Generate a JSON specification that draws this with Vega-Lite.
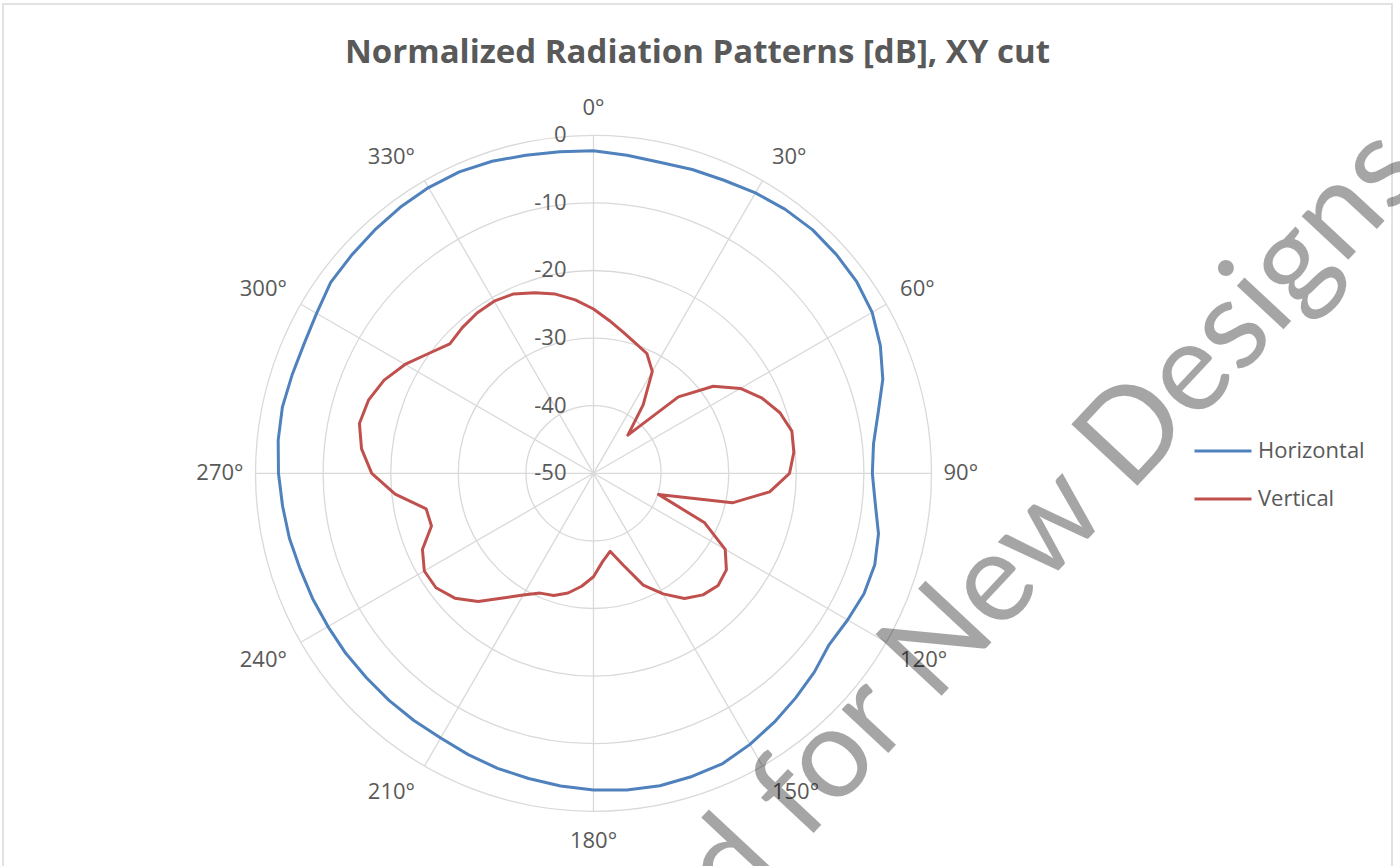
{
  "$schema": "https://vega.github.io/schema/vega-lite/v6.json",
  "width": 1389,
  "height": 900,
  "autosize": {"type": "none"},
  "padding": {"left": 3, "top": 4, "right": 8, "bottom": 0},
  "background": "white",
  "config": {"view": {"stroke": "#D9D9D9", "strokeWidth": 1.5}, "font": "Open Sans"},
  "title": {
    "text": "Normalized Radiation Patterns [dB], XY cut",
    "font": "Open Sans",
    "fontSize": 33,
    "fontWeight": "bold",
    "color": "#595959",
    "anchor": "middle",
    "frame": "group",
    "offset": -92,
    "baseline": "alphabetic"
  },
  "datasets": {
    "rings": [{"dB": -40}, {"dB": -30}, {"dB": -20}, {"dB": -10}, {"dB": 0}],
    "radial": [
      {"dB": 0, "label": "0"}, {"dB": -10, "label": "-10"}, {"dB": -20, "label": "-20"},
      {"dB": -30, "label": "-30"}, {"dB": -40, "label": "-40"}, {"dB": -50, "label": "-50"}
    ],
    "spokes": [
      {"angle": 0}, {"angle": 30}, {"angle": 60}, {"angle": 90}, {"angle": 120}, {"angle": 150},
      {"angle": 180}, {"angle": 210}, {"angle": 240}, {"angle": 270}, {"angle": 300}, {"angle": 330}
    ],
    "pattern": [
      {"series": "Horizontal", "angle": 0, "dB": -2.3},
      {"series": "Horizontal", "angle": 6, "dB": -2.7},
      {"series": "Horizontal", "angle": 12, "dB": -2.95},
      {"series": "Horizontal", "angle": 18, "dB": -2.75},
      {"series": "Horizontal", "angle": 24, "dB": -2.55},
      {"series": "Horizontal", "angle": 30, "dB": -2.1},
      {"series": "Horizontal", "angle": 36, "dB": -1.75},
      {"series": "Horizontal", "angle": 42, "dB": -1.55},
      {"series": "Horizontal", "angle": 48, "dB": -1.65},
      {"series": "Horizontal", "angle": 54, "dB": -1.85},
      {"series": "Horizontal", "angle": 60, "dB": -2.4},
      {"series": "Horizontal", "angle": 66, "dB": -3.55},
      {"series": "Horizontal", "angle": 72, "dB": -5.0},
      {"series": "Horizontal", "angle": 78, "dB": -6.95},
      {"series": "Horizontal", "angle": 84, "dB": -8.35},
      {"series": "Horizontal", "angle": 90, "dB": -8.75},
      {"series": "Horizontal", "angle": 96, "dB": -8.1},
      {"series": "Horizontal", "angle": 102, "dB": -6.9},
      {"series": "Horizontal", "angle": 108, "dB": -6.25},
      {"series": "Horizontal", "angle": 114, "dB": -6.2},
      {"series": "Horizontal", "angle": 120, "dB": -6.6},
      {"series": "Horizontal", "angle": 126, "dB": -6.9},
      {"series": "Horizontal", "angle": 132, "dB": -6.05},
      {"series": "Horizontal", "angle": 138, "dB": -5.3},
      {"series": "Horizontal", "angle": 144, "dB": -4.5},
      {"series": "Horizontal", "angle": 150, "dB": -3.7},
      {"series": "Horizontal", "angle": 156, "dB": -3.0},
      {"series": "Horizontal", "angle": 162, "dB": -2.85},
      {"series": "Horizontal", "angle": 168, "dB": -2.75},
      {"series": "Horizontal", "angle": 174, "dB": -2.9},
      {"series": "Horizontal", "angle": 180, "dB": -3.15},
      {"series": "Horizontal", "angle": 186, "dB": -3.5},
      {"series": "Horizontal", "angle": 192, "dB": -3.85},
      {"series": "Horizontal", "angle": 198, "dB": -4.1},
      {"series": "Horizontal", "angle": 204, "dB": -4.45},
      {"series": "Horizontal", "angle": 210, "dB": -4.8},
      {"series": "Horizontal", "angle": 216, "dB": -4.8},
      {"series": "Horizontal", "angle": 222, "dB": -4.8},
      {"series": "Horizontal", "angle": 228, "dB": -4.8},
      {"series": "Horizontal", "angle": 234, "dB": -4.7},
      {"series": "Horizontal", "angle": 240, "dB": -4.65},
      {"series": "Horizontal", "angle": 246, "dB": -4.5},
      {"series": "Horizontal", "angle": 252, "dB": -4.35},
      {"series": "Horizontal", "angle": 258, "dB": -4.0},
      {"series": "Horizontal", "angle": 264, "dB": -3.75},
      {"series": "Horizontal", "angle": 270, "dB": -3.4},
      {"series": "Horizontal", "angle": 276, "dB": -3.1},
      {"series": "Horizontal", "angle": 282, "dB": -2.95},
      {"series": "Horizontal", "angle": 288, "dB": -3.1},
      {"series": "Horizontal", "angle": 294, "dB": -3.1},
      {"series": "Horizontal", "angle": 300, "dB": -2.7},
      {"series": "Horizontal", "angle": 306, "dB": -1.95},
      {"series": "Horizontal", "angle": 312, "dB": -1.82},
      {"series": "Horizontal", "angle": 318, "dB": -1.6},
      {"series": "Horizontal", "angle": 324, "dB": -1.36},
      {"series": "Horizontal", "angle": 330, "dB": -1.2},
      {"series": "Horizontal", "angle": 336, "dB": -1.2},
      {"series": "Horizontal", "angle": 342, "dB": -1.47},
      {"series": "Horizontal", "angle": 348, "dB": -1.9},
      {"series": "Horizontal", "angle": 354, "dB": -2.17},
      {"series": "Horizontal", "angle": 360, "dB": -2.3},
      {"series": "Vertical", "angle": 0, "dB": -25.7},
      {"series": "Vertical", "angle": 6, "dB": -27.3},
      {"series": "Vertical", "angle": 12, "dB": -28.7},
      {"series": "Vertical", "angle": 18, "dB": -29.8},
      {"series": "Vertical", "angle": 24, "dB": -30.6},
      {"series": "Vertical", "angle": 30, "dB": -32.6},
      {"series": "Vertical", "angle": 36, "dB": -37.5},
      {"series": "Vertical", "angle": 42, "dB": -42.4},
      {"series": "Vertical", "angle": 48, "dB": -33.1},
      {"series": "Vertical", "angle": 54, "dB": -28.1},
      {"series": "Vertical", "angle": 60, "dB": -24.9},
      {"series": "Vertical", "angle": 66, "dB": -22.7},
      {"series": "Vertical", "angle": 72, "dB": -21.0},
      {"series": "Vertical", "angle": 78, "dB": -20.0},
      {"series": "Vertical", "angle": 84, "dB": -20.2},
      {"series": "Vertical", "angle": 90, "dB": -21.0},
      {"series": "Vertical", "angle": 96, "dB": -23.8},
      {"series": "Vertical", "angle": 102, "dB": -29.0},
      {"series": "Vertical", "angle": 108, "dB": -39.9},
      {"series": "Vertical", "angle": 114, "dB": -32.0},
      {"series": "Vertical", "angle": 120, "dB": -27.5},
      {"series": "Vertical", "angle": 126, "dB": -25.7},
      {"series": "Vertical", "angle": 132, "dB": -25.2},
      {"series": "Vertical", "angle": 138, "dB": -25.8},
      {"series": "Vertical", "angle": 144, "dB": -27.1},
      {"series": "Vertical", "angle": 150, "dB": -29.4},
      {"series": "Vertical", "angle": 156, "dB": -31.9},
      {"series": "Vertical", "angle": 162, "dB": -35.7},
      {"series": "Vertical", "angle": 168, "dB": -38.2},
      {"series": "Vertical", "angle": 174, "dB": -36.9},
      {"series": "Vertical", "angle": 180, "dB": -34.7},
      {"series": "Vertical", "angle": 186, "dB": -33.2},
      {"series": "Vertical", "angle": 192, "dB": -31.9},
      {"series": "Vertical", "angle": 198, "dB": -31.0},
      {"series": "Vertical", "angle": 204, "dB": -30.6},
      {"series": "Vertical", "angle": 210, "dB": -29.2},
      {"series": "Vertical", "angle": 216, "dB": -27.2},
      {"series": "Vertical", "angle": 222, "dB": -24.5},
      {"series": "Vertical", "angle": 228, "dB": -22.4},
      {"series": "Vertical", "angle": 234, "dB": -21.2},
      {"series": "Vertical", "angle": 240, "dB": -21.1},
      {"series": "Vertical", "angle": 246, "dB": -22.3},
      {"series": "Vertical", "angle": 252, "dB": -24.8},
      {"series": "Vertical", "angle": 258, "dB": -24.7},
      {"series": "Vertical", "angle": 264, "dB": -20.5},
      {"series": "Vertical", "angle": 270, "dB": -17.2},
      {"series": "Vertical", "angle": 276, "dB": -15.5},
      {"series": "Vertical", "angle": 282, "dB": -14.6},
      {"series": "Vertical", "angle": 288, "dB": -15.0},
      {"series": "Vertical", "angle": 294, "dB": -16.1},
      {"series": "Vertical", "angle": 300, "dB": -17.8},
      {"series": "Vertical", "angle": 306, "dB": -19.85},
      {"series": "Vertical", "angle": 312, "dB": -21.4},
      {"series": "Vertical", "angle": 318, "dB": -21.0},
      {"series": "Vertical", "angle": 324, "dB": -20.7},
      {"series": "Vertical", "angle": 330, "dB": -20.6},
      {"series": "Vertical", "angle": 336, "dB": -20.95},
      {"series": "Vertical", "angle": 342, "dB": -21.9},
      {"series": "Vertical", "angle": 348, "dB": -22.9},
      {"series": "Vertical", "angle": 354, "dB": -24.2},
      {"series": "Vertical", "angle": 360, "dB": -25.7}
    ],
    "watermark": [{"part": "Designs"}]
  },
  "layer": [
    {
      "data": {"name": "rings"},
      "transform": [
        {"calculate": "datum.dB + 50", "as": "r"},
        {"calculate": "0", "as": "cx"},
        {"calculate": "0", "as": "cy"}
      ],
      "mark": {"type": "point", "shape": "circle", "filled": false, "color": "#D9D9D9", "strokeWidth": 1.3, "opacity": 1},
      "encoding": {
        "x": {"field": "cx", "type": "quantitative", "scale": {"domain": [-87.35, 118.12], "nice": false, "zero": false}, "axis": null},
        "y": {"field": "cy", "type": "quantitative", "scale": {"domain": [-63.71, 69.42], "nice": false, "zero": false}, "axis": null},
        "size": {"field": "r", "type": "quantitative", "legend": null, "scale": {"type": "pow", "exponent": 2, "domain": [0, 50], "range": [0, 456976], "zero": true}}
      }
    },
    {
      "data": {"name": "spokes"},
      "transform": [
        {"calculate": "0", "as": "cx"},
        {"calculate": "0", "as": "cy"},
        {"calculate": "50 * sin(datum.angle * PI / 180)", "as": "ex"},
        {"calculate": "50 * cos(datum.angle * PI / 180)", "as": "ey"}
      ],
      "mark": {"type": "rule", "color": "#D9D9D9", "strokeWidth": 1.3},
      "encoding": {
        "x": {"field": "cx", "type": "quantitative", "axis": null},
        "y": {"field": "cy", "type": "quantitative", "axis": null},
        "x2": {"field": "ex"},
        "y2": {"field": "ey"}
      }
    },
    {
      "data": {"name": "radial"},
      "transform": [
        {"calculate": "datum.dB + 50", "as": "r"},
        {"calculate": "0", "as": "cx"}
      ],
      "mark": {"type": "text", "align": "right", "baseline": "middle", "dx": -27, "fontSize": 22, "font": "Open Sans", "color": "#595959"},
      "encoding": {
        "x": {"field": "cx", "type": "quantitative", "axis": null},
        "y": {"field": "r", "type": "quantitative", "axis": null},
        "text": {"field": "label", "type": "nominal"}
      }
    },
    {
      "data": {"name": "spokes"},
      "transform": [
        {"calculate": "(350 + 8 * abs(cos(datum.angle * PI / 180))) / 6.76", "as": "lr"},
        {"calculate": "datum.lr * sin(datum.angle * PI / 180)", "as": "lx"},
        {"calculate": "datum.lr * cos(datum.angle * PI / 180)", "as": "ly"},
        {"calculate": "datum.angle + '°'", "as": "label"}
      ],
      "mark": {
        "type": "text",
        "fontSize": 22,
        "font": "Open Sans",
        "color": "#595959",
        "align": {"expr": "datum.angle == 0 || datum.angle == 180 ? 'center' : (datum.angle < 180 ? 'left' : 'right')"},
        "baseline": {"expr": "datum.angle == 90 || datum.angle == 270 ? 'middle' : ((datum.angle < 90 || datum.angle > 270) ? 'alphabetic' : 'top')"}
      },
      "encoding": {
        "x": {"field": "lx", "type": "quantitative", "axis": null},
        "y": {"field": "ly", "type": "quantitative", "axis": null},
        "text": {"field": "label", "type": "nominal"}
      }
    },
    {
      "data": {"name": "pattern"},
      "transform": [
        {"calculate": "datum.dB + 50", "as": "r"},
        {"calculate": "datum.r * sin(datum.angle * PI / 180)", "as": "px"},
        {"calculate": "datum.r * cos(datum.angle * PI / 180)", "as": "py"}
      ],
      "mark": {"type": "line", "strokeWidth": 3, "strokeJoin": "round"},
      "encoding": {
        "x": {"field": "px", "type": "quantitative", "axis": null},
        "y": {"field": "py", "type": "quantitative", "axis": null},
        "order": {"field": "angle", "type": "quantitative"},
        "color": {
          "field": "series",
          "type": "nominal",
          "scale": {"domain": ["Horizontal", "Vertical"], "range": ["#4F81BD", "#C0504D"]},
          "legend": {
            "orient": "none",
            "legendX": 1190,
            "legendY": 417,
            "title": null,
            "padding": 0,
            "symbolType": "stroke",
            "symbolSize": 3249,
            "symbolStrokeWidth": 3,
            "labelFontSize": 22,
            "labelFont": "Open Sans",
            "labelColor": "#595959",
            "labelOffset": 5,
            "rowPadding": 7
          }
        }
      }
    },
    {
      "data": {"name": "watermark"},
      "transform": [
        {"calculate": "79.3", "as": "wx"},
        {"calculate": "-3.1", "as": "wy"}
      ],
      "mark": {"type": "text", "text": "Designs", "align": "left", "baseline": "alphabetic", "angle": -47, "font": "Lato", "fontSize": 126, "color": "#000000", "opacity": 0.35},
      "encoding": {
        "x": {"field": "wx", "type": "quantitative", "axis": null},
        "y": {"field": "wy", "type": "quantitative", "axis": null}
      }
    },
    {
      "data": {"name": "watermark"},
      "transform": [
        {"calculate": "79.3", "as": "wx"},
        {"calculate": "-3.1", "as": "wy"}
      ],
      "mark": {"type": "text", "text": "Not Recommended for New", "align": "right", "baseline": "alphabetic", "angle": -47, "dx": -28, "font": "Lato", "fontSize": 126, "color": "#000000", "opacity": 0.35},
      "encoding": {
        "x": {"field": "wx", "type": "quantitative", "axis": null},
        "y": {"field": "wy", "type": "quantitative", "axis": null}
      }
    }
  ]
}
